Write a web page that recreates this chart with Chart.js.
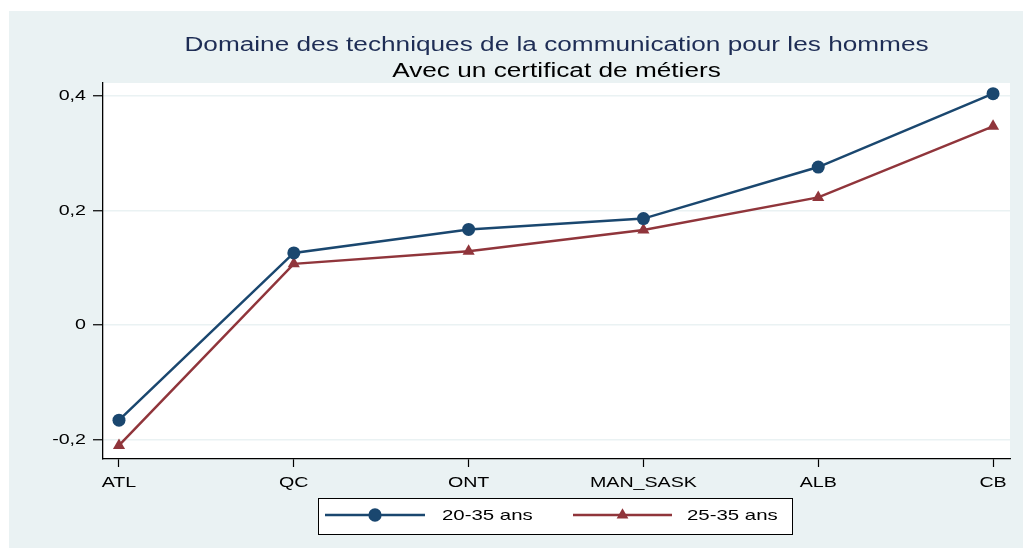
<!DOCTYPE html>
<html>
<head>
<meta charset="utf-8">
<script src="https://cdn.jsdelivr.net/npm/chart.js@4/dist/chart.umd.min.js"></script>
<style>
  body { margin: 0; background: #fff; }
  #wrap { position: absolute; left: 9px; top: 11px; width: 1014px; height: 537px; }
</style>
</head>
<body>
<div id="wrap"><canvas id="c"></canvas></div>
<script>
const categories = ['ATL', 'QC', 'ONT', 'MAN_SASK', 'ALB', 'CB'];
const series2035 = [-0.166, 0.126, 0.167, 0.186, 0.276, 0.404];
const series2535 = [-0.21, 0.107, 0.129, 0.166, 0.223, 0.347];
const yTicks = [-0.2, 0, 0.2, 0.4];
const seriesLabels = ['20-35 ans', '25-35 ans'];
const titleText = 'Domaine des techniques de la communication pour les hommes';
const subtitleText = 'Avec un certificat de métiers';

const BLUE = '#1a476f';
const RED = '#90353b';
const BG = '#eaf2f3';
const FONT = '"Liberation Sans", Arial, sans-serif';
const SX = 1.31; // the original text is a little wide, stretch it

const toPoints = (vals) => vals.map((v, i) => ({ x: i, y: v }));
const fmt = (v) => (Math.abs(v) < 1e-9 ? '0' : String(+v.toFixed(1)).replace('.', ','));

function wideText(ctx, text, x, y, align, sx) {
  ctx.save();
  ctx.translate(x, y);
  ctx.scale(sx, 1);
  ctx.textAlign = align;
  ctx.fillText(text, 0, 0);
  ctx.restore();
}

// background, white plot region, titles, tick labels and boxed legend
const decor = {
  id: 'decor',
  beforeDraw(chart) {
    const { ctx, chartArea: a, width, height } = chart;
    ctx.save();
    ctx.fillStyle = BG;
    ctx.fillRect(0, 0, width, height);
    ctx.fillStyle = '#fff';
    ctx.fillRect(a.left, a.top, a.right - a.left, a.bottom - a.top);
    ctx.restore();
  },
  afterDraw(chart) {
    const { ctx, chartArea: a } = chart;
    const cx = (a.left + a.right) / 2;
    ctx.save();
    ctx.textBaseline = 'alphabetic';
    ctx.font = '20px ' + FONT;
    ctx.fillStyle = '#1e2d55';
    wideText(ctx, titleText, cx, 40, 'center', SX);
    ctx.fillStyle = '#000';
    wideText(ctx, subtitleText, cx, 66, 'center', SX);

    // tick labels
    ctx.font = '15px ' + FONT;
    ctx.fillStyle = '#000';
    ctx.textBaseline = 'middle';
    const ys = chart.scales.y;
    ys.ticks.forEach((t, i) => {
      wideText(ctx, fmt(t.value), a.left - 17, ys.getPixelForTick(i), 'right', SX);
    });
    const xs = chart.scales.x;
    ctx.textBaseline = 'top';
    xs.ticks.forEach((t, i) => {
      wideText(ctx, categories[t.value], xs.getPixelForTick(i), a.bottom + 16, 'center', SX);
    });

    // legend box
    ctx.fillStyle = '#fff';
    ctx.fillRect(309, 487, 474, 36);
    ctx.strokeStyle = '#000';
    ctx.lineWidth = 1;
    ctx.strokeRect(309.5, 487.5, 474, 36);
    const items = [
      { x0: 316, x1: 416, tx: 433, color: BLUE, ds: 0 },
      { x0: 564, x1: 663, tx: 678, color: RED, ds: 1 }
    ];
    const y = 504;
    ctx.textBaseline = 'middle';
    items.forEach((it) => {
      ctx.strokeStyle = it.color;
      ctx.lineWidth = 2.3;
      ctx.beginPath();
      ctx.moveTo(it.x0, y);
      ctx.lineTo(it.x1, y);
      ctx.stroke();
      const ds = chart.data.datasets[it.ds];
      Chart.helpers.drawPoint(ctx, {
        pointStyle: ds.pointStyle, radius: it.ds === 0 ? 5.5 : 4.5, rotation: 0, borderWidth: 1
      }, (it.x0 + it.x1) / 2, y);
      ctx.fillStyle = it.color;
      ctx.fill();
      ctx.fillStyle = '#000';
      wideText(ctx, seriesLabels[it.ds], it.tx, y + 1, 'left', 1.36);
    });
    ctx.restore();
  }
};

new Chart(document.getElementById('c'), {
  type: 'line',
  data: {
    datasets: [
      {
        label: seriesLabels[0], data: toPoints(series2035),
        borderColor: BLUE, backgroundColor: BLUE, borderWidth: 2.5,
        pointStyle: 'circle', pointRadius: 6.5, pointBorderWidth: 0, tension: 0
      },
      {
        label: seriesLabels[1], data: toPoints(series2535),
        borderColor: RED, backgroundColor: RED, borderWidth: 2.5,
        pointStyle: 'triangle', pointRadius: 7, pointBorderWidth: 0, tension: 0
      }
    ]
  },
  options: {
    responsive: true,
    maintainAspectRatio: false,
    animation: false,
    layout: { padding: { top: 72, right: 13, left: 0, bottom: 0 } },
    plugins: { legend: { display: false }, title: { display: false }, tooltip: { enabled: false } },
    scales: {
      x: {
        type: 'linear',
        min: -0.0915,
        max: 5.097,
        afterBuildTicks: (s) => { s.ticks = categories.map((_, i) => ({ value: i })); },
        afterFit: (s) => { s.height = 89; },
        ticks: { display: false },
        grid: { drawOnChartArea: false, tickLength: 8, tickColor: '#000', tickWidth: 1.2 },
        border: { color: '#000', width: 1.3 }
      },
      y: {
        min: -0.2337,
        max: 0.4227,
        afterBuildTicks: (s) => { s.ticks = yTicks.map((v) => ({ value: v })); },
        afterFit: (s) => { s.width = 94; },
        ticks: { display: false },
        grid: { color: BG, lineWidth: 1.5, tickLength: 10, tickColor: '#000', tickWidth: 1.2 },
        border: { color: '#000', width: 1.3 }
      }
    }
  },
  plugins: [decor]
});
</script>
</body>
</html>
